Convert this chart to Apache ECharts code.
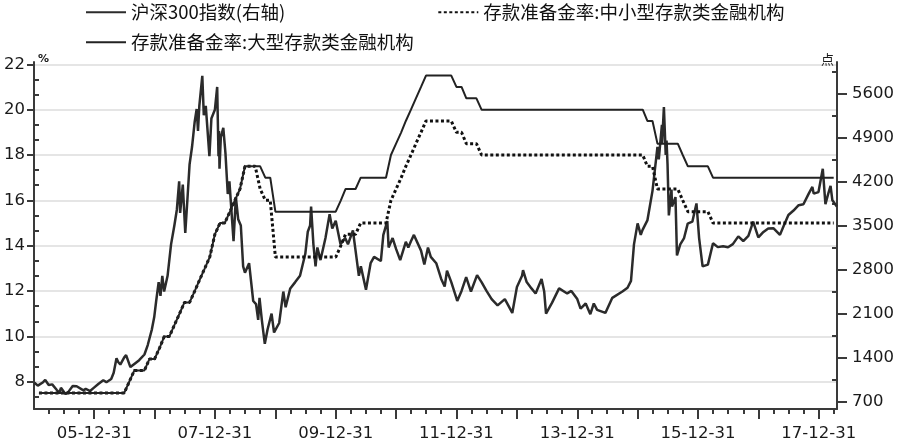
<!DOCTYPE html>
<html><head><meta charset="utf-8">
<script src="https://cdn.jsdelivr.net/npm/echarts@6/dist/echarts.min.js"></script>
<style>html,body{margin:0;padding:0;background:#fff}#c{width:900px;height:444px}</style>
</head><body><div id="c"></div>
<script>
// ---------- data ----------
const seriesNames = ['沪深300指数(右轴)', '存款准备金率:中小型存款类金融机构', '存款准备金率:大型存款类金融机构'];

const csiDates = [
'2005-01-04','2005-01-24','2005-02-25','2005-03-10','2005-03-31','2005-04-21','2005-05-18','2005-06-03','2005-06-13','2005-07-11','2005-07-29','2005-08-23','2005-09-16','2005-10-27','2005-11-10','2005-12-06','2005-12-30',
'2006-01-25','2006-02-24','2006-03-15','2006-04-13','2006-04-28','2006-05-15','2006-05-25','2006-06-07','2006-06-30','2006-07-12','2006-08-07','2006-08-31','2006-09-29','2006-10-31','2006-11-20','2006-11-30','2006-12-15','2006-12-29',
'2007-01-10','2007-01-25','2007-02-05','2007-02-16','2007-02-27','2007-03-20','2007-04-10','2007-04-30','2007-05-15','2007-05-29','2007-06-04','2007-06-20','2007-07-05','2007-07-20','2007-07-31','2007-08-15','2007-08-31','2007-09-12','2007-09-20','2007-09-28','2007-10-16','2007-10-25','2007-11-06','2007-11-28','2007-12-10','2007-12-31',
'2008-01-14','2008-01-22','2008-01-25','2008-01-28','2008-02-05','2008-02-20','2008-03-04','2008-03-18','2008-03-28','2008-04-22','2008-05-06','2008-05-20','2008-06-05','2008-06-19','2008-06-30','2008-07-25','2008-08-19','2008-09-05','2008-09-18','2008-09-26','2008-10-10','2008-10-28','2008-11-04','2008-11-14','2008-12-08','2008-12-23','2008-12-31',
'2009-01-23','2009-02-17','2009-03-03','2009-03-31','2009-04-30','2009-05-29','2009-06-30','2009-07-15','2009-07-29','2009-08-04','2009-08-18','2009-08-31','2009-09-11','2009-09-30','2009-10-30','2009-11-24','2009-12-10','2009-12-31',
'2010-01-12','2010-01-29','2010-02-26','2010-03-15','2010-04-14','2010-04-30','2010-05-20','2010-06-01','2010-07-02','2010-07-30','2010-08-20','2010-09-30','2010-10-15','2010-11-08','2010-11-16','2010-12-10','2010-12-31',
'2011-01-25','2011-02-28','2011-03-15','2011-03-31','2011-04-18','2011-05-31','2011-06-20','2011-07-12','2011-07-29','2011-08-31','2011-09-30','2011-10-21','2011-11-04','2011-11-30','2011-12-31',
'2012-01-05','2012-01-31','2012-02-28','2012-03-28','2012-05-04','2012-05-31','2012-06-30','2012-07-31','2012-09-05','2012-10-19','2012-12-03','2012-12-31',
'2013-01-31','2013-02-06','2013-02-28','2013-03-29','2013-04-23','2013-05-29','2013-06-14','2013-06-25','2013-07-31','2013-09-12','2013-10-31','2013-11-25','2013-12-31',
'2014-01-20','2014-02-20','2014-03-20','2014-04-10','2014-04-30','2014-06-19','2014-07-31','2014-09-30','2014-10-31','2014-11-21','2014-12-09','2014-12-31',
'2015-01-19','2015-01-30','2015-02-28','2015-03-31','2015-04-30','2015-05-08','2015-05-27','2015-05-28','2015-06-08','2015-06-19','2015-06-24','2015-06-30','2015-07-08','2015-07-24','2015-07-27','2015-08-17','2015-08-26','2015-09-15','2015-10-08','2015-10-30','2015-11-27','2015-12-22',
'2016-01-07','2016-01-28','2016-02-29','2016-03-31','2016-04-29','2016-05-31','2016-06-30','2016-07-29','2016-08-31','2016-09-30','2016-10-31','2016-11-29','2016-12-30',
'2017-01-26','2017-02-28','2017-03-31','2017-05-10','2017-05-31','2017-06-30','2017-07-31','2017-08-31','2017-09-29','2017-10-31','2017-11-22','2017-11-30','2017-12-29',
'2018-01-24','2018-02-09','2018-02-28','2018-03-12','2018-03-23','2018-03-30','2018-04-19'
];
const csiValues = [
1000,955,1010,1045,965,975,890,840,920,820,860,950,945,880,905,870,923,
980,1040,1010,1060,1160,1390,1330,1290,1400,1440,1250,1300,1360,1450,1600,1700,1850,2041,
2300,2600,2380,2700,2450,2700,3200,3500,3750,4200,3700,4150,3380,4000,4470,4750,5150,5350,5000,5400,5877,5250,5400,4600,5200,5338,
5700,4600,5000,4400,4900,5050,4650,4000,4200,3250,3950,3600,3500,2850,2750,2900,2300,2250,2000,2350,2000,1620,1607,1850,2100,1800,1817,
1950,2450,2200,2500,2600,2700,3050,3400,3500,3800,3200,2850,3150,2950,3300,3680,3450,3575,
3600,3200,3300,3200,3420,3100,2700,2850,2480,2900,3000,2935,3350,3570,3150,3300,3128,
2950,3240,3150,3250,3350,3100,2880,3150,3000,2900,2650,2530,2780,2600,2346,
2300,2460,2680,2450,2710,2600,2460,2330,2230,2330,2110,2523,
2700,2790,2600,2500,2420,2650,2450,2100,2270,2500,2420,2460,2330,
2180,2260,2090,2260,2160,2110,2350,2450,2510,2620,3200,3533,
3350,3430,3580,4050,4750,4550,5100,4800,5380,4620,4850,4470,3660,4070,3800,3950,3025,3200,3300,3530,3560,3850,
3300,2850,2878,3218,3156,3169,3154,3203,3327,3253,3336,3560,3310,
3387,3452,3456,3350,3485,3666,3737,3822,3836,4006,4112,4006,4030,
4400,3840,4023,4130,3900,3898,3800
];

const rrrDates = [
'2005-01-31','2006-06-30','2006-07-31','2006-08-31','2006-10-31','2006-11-30','2006-12-31','2007-01-31','2007-02-28','2007-03-31',
'2007-04-30','2007-05-31','2007-06-30','2007-07-31','2007-08-31','2007-09-30','2007-10-31','2007-11-30','2007-12-31','2008-01-31',
'2008-02-29','2008-03-31','2008-04-30','2008-05-31','2008-06-30','2008-08-31','2008-09-30','2008-10-31','2008-11-30','2008-12-31',
'2009-12-31','2010-01-31','2010-02-28','2010-04-30','2010-05-31','2010-10-31','2010-11-30','2010-12-31','2011-01-31','2011-02-28',
'2011-03-31','2011-04-30','2011-05-31','2011-06-30','2011-11-30','2011-12-31','2012-01-31','2012-02-29','2012-04-30','2012-05-31',
'2015-01-31','2015-02-28','2015-03-31','2015-04-30','2015-08-31','2015-09-30','2015-10-31','2016-02-29','2016-03-31','2018-03-31'
];
const rrrLarge = [
7.5,7.5,8.0,8.5,8.5,9.0,9.0,9.5,10.0,10.0,
10.5,11.0,11.5,11.5,12.0,12.5,13.0,13.5,14.5,15.0,
15.0,15.5,16.0,16.5,17.5,17.5,17.5,17.0,17.0,15.5,
15.5,16.0,16.5,16.5,17.0,17.0,18.0,18.5,19.0,19.5,
20.0,20.5,21.0,21.5,21.5,21.0,21.0,20.5,20.5,20.0,
20.0,19.5,19.5,18.5,18.5,18.0,17.5,17.5,17.0,17.0
];
const rrrSmall = [
7.5,7.5,8.0,8.5,8.5,9.0,9.0,9.5,10.0,10.0,
10.5,11.0,11.5,11.5,12.0,12.5,13.0,13.5,14.5,15.0,
15.0,15.5,16.0,16.5,17.5,17.5,16.5,16.0,16.0,13.5,
13.5,14.0,14.5,14.5,15.0,15.0,16.0,16.5,17.0,17.5,
18.0,18.5,19.0,19.5,19.5,19.0,19.0,18.5,18.5,18.0,
18.0,17.5,17.5,16.5,16.5,16.0,15.5,15.5,15.0,15.0
];

const leftTicks = [8, 10, 12, 14, 16, 18, 20, 22];
const rightTicks = [700, 1400, 2100, 2800, 3500, 4200, 4900, 5600];
const xLabelDates = ['2005-12-31','2007-12-31','2009-12-31','2011-12-31','2013-12-31','2015-12-31','2017-12-31'];
const yearEndDates = ['2005-12-31','2006-12-31','2007-12-31','2008-12-31','2009-12-31','2010-12-31','2011-12-31','2012-12-31','2013-12-31','2014-12-31','2015-12-31','2016-12-31','2017-12-31'];

// ---------- helpers ----------
function ts(s) { const p = s.split('-'); return Date.UTC(+p[0], +p[1] - 1, +p[2]); }
const X_MIN = ts('2005-01-01'), X_MAX = ts('2018-04-20');
const L_MIN = 6.8, L_MAX = 22.1, R_MIN = 584, R_MAX = 6097;

const quarterTicks = [];
for (let y = 2005; y <= 2018; y++) {
  for (const m of [3, 6, 9, 12]) {
    const t = Date.UTC(y, m, 0);
    if (t > X_MIN && t < X_MAX) quarterTicks.push(t);
  }
}
const leftMinor = [];
for (let k = -2; k <= 22; k++) {
  if (k % 3 === 0) continue;
  const v = 8 + k * 2 / 3;
  if (v > L_MIN && v < L_MAX) leftMinor.push(v);
}
const rightMinor = [];
for (let v = 350; v < R_MAX; v += 700) if (v > R_MIN) rightMinor.push(v);

const pad = n => (n < 10 ? '0' : '') + n;
const AXC = '#3a3a3a';
const numFont = { fontFamily: 'DejaVu Sans', fontSize: 16.5, color: '#1a1a1a' };
const cjkFont = { fontFamily: 'Noto Sans CJK SC', fontSize: 18.5, color: '#111' };

const chart = echarts.init(document.getElementById('c'), null, { renderer: 'canvas' });
chart.setOption({
  animation: false,
  backgroundColor: '#fff',
  grid: { left: 34, right: 63, top: 62, bottom: 35, containLabel: false },
  legend: [
    { left: 85, top: 3, itemWidth: 40, itemHeight: 12, itemGap: 152, padding: 0,
      itemStyle: { opacity: 0 },
      data: [seriesNames[0], seriesNames[1]], textStyle: cjkFont },
    { left: 85, top: 33, itemWidth: 40, itemHeight: 12, padding: 0,
      itemStyle: { opacity: 0 },
      data: [seriesNames[2]], textStyle: cjkFont }
  ],
  xAxis: [
    { type: 'value', min: X_MIN, max: X_MAX, position: 'bottom',
      axisLine: { show: true, onZero: false, lineStyle: { color: AXC, width: 2 } },
      axisTick: { show: true, customValues: yearEndDates.map(ts), length: 10, lineStyle: { color: AXC, width: 2 } },
      axisLabel: { show: true, customValues: xLabelDates.map(ts), margin: 16, ...numFont,
        formatter: v => { const d = new Date(v); return pad(d.getUTCFullYear() % 100) + '-' + pad(d.getUTCMonth() + 1) + '-' + pad(d.getUTCDate()); } },
      splitLine: { show: false } },
    { type: 'value', min: X_MIN, max: X_MAX, position: 'bottom',
      axisLine: { show: false },
      axisTick: { show: true, customValues: quarterTicks, length: 5, lineStyle: { color: AXC, width: 2 } },
      axisLabel: { show: false }, splitLine: { show: false } }
  ],
  yAxis: [
    { type: 'value', min: L_MIN, max: L_MAX, position: 'left',
      name: '%', nameLocation: 'end', nameGap: 3,
      nameTextStyle: { fontFamily: 'DejaVu Sans', fontSize: 11, fontWeight: 'bold', color: '#1a1a1a', align: 'left', verticalAlign: 'middle', padding: [0, 0, 0, 4] },
      axisLine: { show: true, onZero: false, lineStyle: { color: AXC, width: 2 } },
      axisTick: { show: true, customValues: leftTicks, length: 7, lineStyle: { color: AXC, width: 2 } },
      axisLabel: { show: true, customValues: leftTicks, margin: 9, ...numFont, formatter: v => String(v) },
      splitLine: { show: true, lineStyle: { color: '#dcdcdc', width: 1.5 } } },
    { type: 'value', min: R_MIN, max: R_MAX, position: 'right',
      name: '点', nameLocation: 'end', nameGap: 3,
      nameTextStyle: { fontFamily: 'Noto Sans CJK SC', fontSize: 13, color: '#1a1a1a', align: 'right', verticalAlign: 'middle', padding: [0, 3, 0, 0] },
      axisLine: { show: true, onZero: false, lineStyle: { color: AXC, width: 2 } },
      axisTick: { show: true, customValues: rightTicks, length: 10, lineStyle: { color: AXC, width: 2 } },
      axisLabel: { show: true, customValues: rightTicks, margin: 15, ...numFont, formatter: v => String(v) },
      splitLine: { show: false } },
    { type: 'value', min: L_MIN, max: L_MAX, position: 'left',
      axisLine: { show: false }, axisLabel: { show: false }, splitLine: { show: false },
      axisTick: { show: true, inside: true, customValues: leftMinor, length: 5, lineStyle: { color: AXC, width: 2 } } },
    { type: 'value', min: R_MIN, max: R_MAX, position: 'right',
      axisLine: { show: false }, axisLabel: { show: false }, splitLine: { show: false },
      axisTick: { show: true, inside: true, customValues: rightMinor, length: 5, lineStyle: { color: AXC, width: 2 } } }
  ],
  series: [
    { name: seriesNames[0], type: 'line', xAxisIndex: 0, yAxisIndex: 1, symbol: 'none', z: 3,
      data: csiDates.map((d, i) => [ts(d), csiValues[i]]),
      lineStyle: { color: '#2b2b2b', width: 2.5 }, itemStyle: { color: '#2b2b2b' } },
    { name: seriesNames[1], type: 'line', xAxisIndex: 0, yAxisIndex: 0, symbol: 'none', z: 4,
      data: rrrDates.map((d, i) => [ts(d), rrrSmall[i]]),
      lineStyle: { color: '#111', width: 3, type: [3, 2.5] }, itemStyle: { color: '#111' } },
    { name: seriesNames[2], type: 'line', xAxisIndex: 0, yAxisIndex: 0, symbol: 'none', z: 5,
      data: rrrDates.map((d, i) => [ts(d), rrrLarge[i]]),
      lineStyle: { color: '#222', width: 2 }, itemStyle: { color: '#222' } }
  ]
});
</script></body></html>
